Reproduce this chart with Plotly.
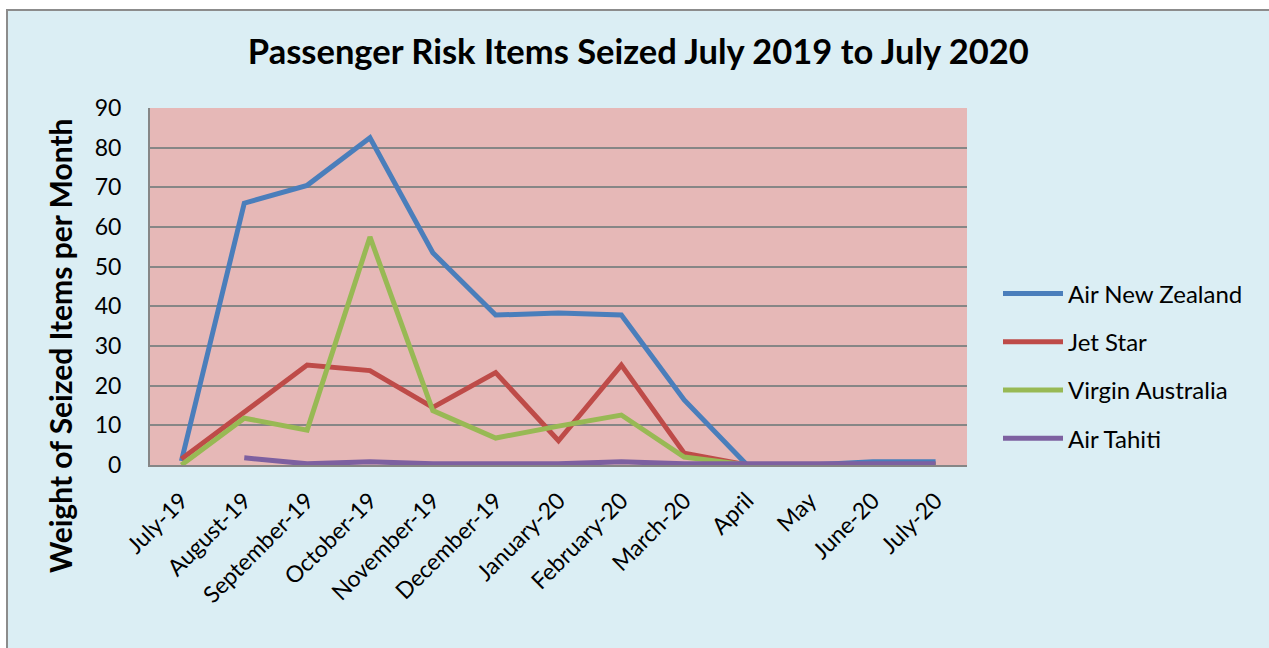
import plotly.graph_objects as go

months = ["July-19", "August-19", "September-19", "October-19", "November-19",
          "December-19", "January-20", "February-20", "March-20", "April",
          "May", "June-20", "July-20"]
air_nz = [1, 66, 70.5, 82.5, 53.5, 37.8, 38.3, 37.8, 16.4, 0, 0, 0.8, 0.8]
jet_star = [1.5, 13.5, 25.2, 23.8, 14.5, 23.3, 6.1, 25.2, 3, 0, 0, 0, 0]
virgin = [0, 11.8, 8.8, 57.5, 13.7, 6.8, 9.8, 12.6, 2, 0, 0, 0, 0]
air_tahiti = [None, 1.8, 0.3, 0.8, 0.3, 0.3, 0.3, 0.8, 0.3, 0.3, 0.3, 0.3, 0.3]

series = [
    ("Air New Zealand", air_nz, "#4A7EBB"),
    ("Jet Star", jet_star, "#BE4B48"),
    ("Virgin Australia", virgin, "#98B954"),
    ("Air Tahiti", air_tahiti, "#7D60A0"),
]

font = "Lato, 'Open Sans', sans-serif"
W, H = 1269, 648
L, R, T, B = 150, 302, 108, 183
pw, ph = W - L - R, H - T - B


def px_x(p):
    return (p - L) / pw


def px_y(p):
    return (H - B - p) / ph


fig = go.Figure()
for i, (name, vals, col) in enumerate(series):
    fig.add_trace(go.Scatter(x=months, y=vals, name=name, mode="lines",
                             line=dict(color=col, width=5),
                             legendgroup=f"g{i}", connectgaps=False))

fig.update_layout(
    width=W, height=H,
    margin=dict(l=L, r=R, t=T, b=B),
    paper_bgcolor="white",
    plot_bgcolor="#E6B8B7",
    font=dict(family=font, color="black"),
    title=dict(text="<b>Passenger Risk Items Seized July 2019 to July 2020</b>",
               x=0.503, xanchor="center", y=1 - 52 / H, yanchor="middle",
               font=dict(size=34.5, family=font)),
    showlegend=True,
    legend=dict(x=px_x(998), y=px_y(366), xanchor="left", yanchor="middle",
                font=dict(size=24, family=font), tracegroupgap=14,
                itemwidth=60, bgcolor="rgba(0,0,0,0)"),
    xaxis=dict(type="category", range=[-0.5, 12.5], tickangle=-45,
               tickfont=dict(size=23, family=font), showgrid=False,
               showline=True, linecolor="#868686", linewidth=2,
               ticks="", automargin=False, ticklabelstandoff=11),
    yaxis=dict(range=[0, 90], dtick=10, tickfont=dict(size=23, family=font),
               showgrid=True, gridcolor="#868686", gridwidth=2,
               showline=True, linecolor="#868686", linewidth=2,
               ticks="", zeroline=False, automargin=False,
               ticklabelstandoff=22),
)

fig.add_annotation(text="<b>Weight of Seized Items per Month</b>",
                   xref="paper", yref="paper", x=px_x(60), y=px_y(346),
                   xanchor="center", yanchor="middle", textangle=-90,
                   showarrow=False, font=dict(size=30, family=font))

fig.add_shape(type="rect", xref="paper", yref="paper",
              x0=px_x(7), x1=px_x(W + 20), y0=px_y(H + 20), y1=px_y(10),
              fillcolor="#DBEEF4",
              line=dict(color="#8C8C8C", width=2), layer="below")
fig.add_shape(type="rect", xref="paper", yref="paper",
              x0=0, x1=1, y0=0, y1=1,
              fillcolor="#E6B8B7", line=dict(width=0), layer="below")

fig.write_html("out.html", config={"displayModeBar": False},
               post_script="document.body.style.margin='0';")
